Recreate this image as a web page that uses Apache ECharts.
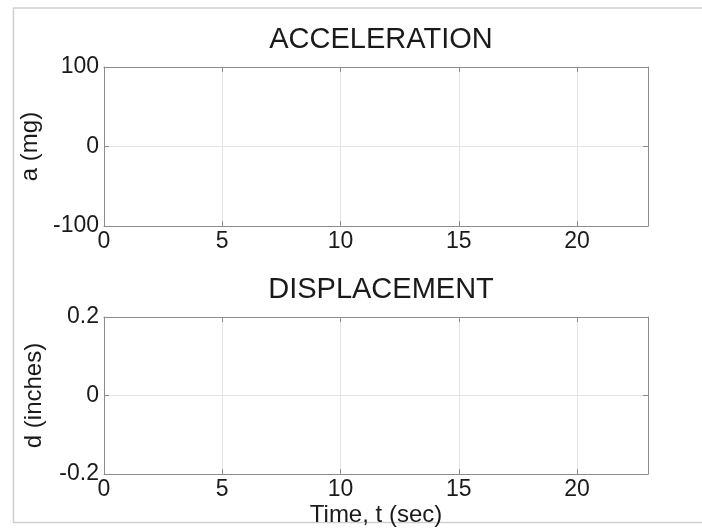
<!DOCTYPE html>
<html>
<head>
<meta charset="utf-8">
<script src="https://cdn.jsdelivr.net/npm/echarts@6/dist/echarts.min.js"></script>
<style>
html,body{margin:0;padding:0;background:#fff;}
#chart{width:702px;height:528px;}
</style>
</head>
<body>
<div id="chart"></div>
<script>
// ---- data ----
const titles = ['ACCELERATION', 'DISPLACEMENT'];
const yNames = ['a (mg)', 'd (inches)'];
const xName = 'Time, t (sec)';
const timeRange = [0, 23];
const timeStep = 5;
const accelRange = [-100, 100];
const accelStep = 100;
const dispRange = [-0.2, 0.2];
const dispStep = 0.2;
const accelData = [];   // empty in the reference
const dispData = [];    // empty in the reference

const FONT = 'Liberation Sans, Arial, Helvetica, sans-serif';
const TXT = '#1a1a1a';
const AX = '#8c8c8c';
const GRID = '#e4e4e4';

const chart = echarts.init(document.getElementById('chart'), null, {renderer: 'canvas'});

function xAxisCfg(grid, showName) {
  return [{
    type: 'value', gridIndex: grid, min: timeRange[0], max: timeRange[1], interval: timeStep,
    position: 'bottom',
    axisLine: {show: true, onZero: false, lineStyle: {color: AX, width: 1}},
    axisTick: {show: true, inside: true, length: 5, lineStyle: {color: AX}},
    axisLabel: {show: true, color: TXT, fontSize: 23, fontFamily: FONT, margin: 4, showMaxLabel: false},
    splitLine: {show: true, lineStyle: {color: GRID, width: 1}},
    name: showName ? xName : '', nameLocation: 'middle', nameGap: 29,
    nameTextStyle: {color: TXT, fontSize: 24, fontFamily: FONT}
  }, {
    type: 'value', gridIndex: grid, min: timeRange[0], max: timeRange[1], interval: timeStep,
    position: 'top',
    axisLine: {show: true, onZero: false, lineStyle: {color: AX, width: 1}},
    axisTick: {show: true, inside: true, length: 5, lineStyle: {color: AX}},
    axisLabel: {show: false}, splitLine: {show: false}
  }];
}
function yAxisCfg(grid, range, step, name, fmt) {
  return [{
    type: 'value', gridIndex: grid, min: range[0], max: range[1], interval: step,
    position: 'left',
    axisLine: {show: true, onZero: false, lineStyle: {color: AX, width: 1}},
    axisTick: {show: true, inside: true, length: 5, lineStyle: {color: AX}},
    axisLabel: {show: true, color: TXT, fontSize: 23, fontFamily: FONT, margin: 5, formatter: fmt},
    splitLine: {show: true, lineStyle: {color: GRID, width: 1}},
    name: name, nameLocation: 'middle', nameGap: 58, nameRotate: 90,
    nameTextStyle: {color: TXT, fontSize: 24, fontFamily: FONT}
  }, {
    type: 'value', gridIndex: grid, min: range[0], max: range[1], interval: step,
    position: 'right',
    axisLine: {show: true, onZero: false, lineStyle: {color: AX, width: 1}},
    axisTick: {show: true, inside: true, length: 5, lineStyle: {color: AX}},
    axisLabel: {show: false}, splitLine: {show: false}
  }];
}

const option = {
  backgroundColor: '#fff',
  animation: false,
  title: [
    {text: titles[0], left: 376, top: 20, textAlign: 'center',
     textStyle: {color: TXT, fontSize: 29, fontWeight: 'normal', fontFamily: FONT}},
    {text: titles[1], left: 376, top: 270, textAlign: 'center',
     textStyle: {color: TXT, fontSize: 29, fontWeight: 'normal', fontFamily: FONT}}
  ],
  grid: [
    {left: 104, top: 67, width: 544, height: 159, containLabel: false},
    {left: 104, top: 317, width: 544, height: 158, containLabel: false}
  ],
  xAxis: [...xAxisCfg(0, false), ...xAxisCfg(1, true)],
  yAxis: [
    ...yAxisCfg(0, accelRange, accelStep, yNames[0], v => String(Math.round(v))),
    ...yAxisCfg(1, dispRange, dispStep, yNames[1], v => (Math.abs(v) < 1e-9 ? '0' : String(Math.round(v * 10) / 10)))
  ],
  series: [
    {type: 'line', name: 'acceleration', xAxisIndex: 0, yAxisIndex: 0, data: accelData, showSymbol: false, lineStyle: {color: '#0000ff', width: 1}},
    {type: 'line', name: 'displacement', xAxisIndex: 2, yAxisIndex: 2, data: dispData, showSymbol: false, lineStyle: {color: '#0000ff', width: 1}}
  ],
  graphic: [
    {type: 'polyline', silent: true, z: -1,
     shape: {points: [[710, 8], [13.5, 8], [13.5, 522.5], [710, 522.5]]},
     style: {stroke: '#cfcfcf', lineWidth: 1.5, fill: null}}
  ]
};
chart.setOption(option);
</script>
</body>
</html>
